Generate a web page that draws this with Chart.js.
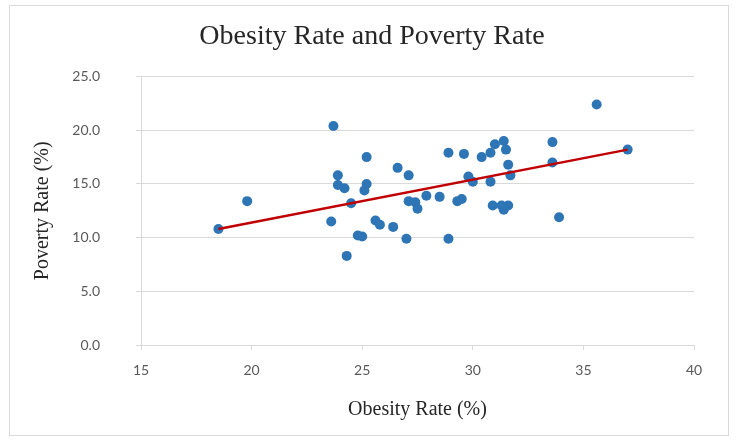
<!DOCTYPE html>
<html>
<head>
<meta charset="utf-8">
<script src="https://cdn.jsdelivr.net/npm/chart.js@4"></script>
<style>
  body { margin: 0; background: #fff; }
  #wrap { position: relative; width: 744px; height: 442px; }
  #frame { position: absolute; left: 9px; top: 5px; width: 718px; height: 429px; border: 1.5px solid #d9d9d9; }
  #myChart { position: absolute; left: 0; top: 0; }
</style>
</head>
<body>
<div id="wrap">
  <div id="frame"></div>
  <canvas id="myChart" width="744" height="442"></canvas>
</div>
<script>
// obesity rate (%) vs poverty rate (%)
var obesity = [18.5, 19.8, 23.7, 25.2, 26.6, 27.1, 23.9, 23.9, 24.2, 25.2,
               25.1, 24.5, 27.1, 27.4, 27.5, 27.9, 23.6, 25.6, 25.8, 26.4,
               24.8, 25.0, 27.0, 24.3, 28.5, 28.9, 29.6, 28.9, 29.3, 29.5,
               29.8, 30.0, 30.4, 30.8, 31.0, 31.4, 31.5, 31.6, 31.7, 30.8,
               30.9, 31.4, 31.6, 31.3, 33.6, 33.6, 33.9, 35.6, 37.0];
var poverty = [10.8, 13.4, 20.4, 17.5, 16.5, 15.8, 15.8, 14.9, 14.6, 15.0,
               14.4, 13.2, 13.4, 13.3, 12.7, 13.9, 11.5, 11.6, 11.2, 11.0,
               10.2, 10.1, 9.9, 8.3, 13.8, 17.9, 17.8, 9.9, 13.4, 13.6,
               15.7, 15.2, 17.5, 17.9, 18.7, 19.0, 18.2, 16.8, 15.8, 15.2,
               13.0, 12.6, 13.0, 13.0, 18.9, 17.0, 11.9, 22.4, 18.2];

// trendline end points as drawn
var trendX = [18.5, 37.0];
var trendY = [10.8, 18.2];

var xTicks = [15, 20, 25, 30, 35, 40];
var yTicks = [0, 5, 10, 15, 20, 25];

var points = obesity.map(function (v, i) { return { x: v, y: poverty[i] }; });
var trend = trendX.map(function (v, i) { return { x: v, y: trendY[i] }; });

var gray = '#d9d9d9';
var tickFont = { family: 'Lato', size: 14 };
var titleFont = { family: 'Liberation Serif', size: 20, lineHeight: 1.2 };

var ctx = document.getElementById('myChart').getContext('2d');
var myChart = new Chart(ctx, {
    type: 'scatter',
    data: {
        datasets: [{
            type: 'line',
            label: 'Trend',
            data: trend,
            borderColor: '#c00000',
            borderWidth: 2.5,
            pointRadius: 0,
            fill: false
        }, {
            label: 'States',
            data: points,
            backgroundColor: '#2e75b6',
            borderColor: '#2e75b6',
            borderWidth: 0,
            pointRadius: 5
        }]
    },
    options: {
        responsive: false,
        animation: false,
        layout: { padding: 0 },
        plugins: {
            legend: { display: false },
            tooltip: { enabled: false },
            title: {
                display: true,
                text: 'Obesity Rate and Poverty Rate',
                color: '#262626',
                font: { family: 'Liberation Serif', size: 28, weight: 'normal', lineHeight: 1.2 },
                padding: { top: 20, bottom: 23 }
            }
        },
        scales: {
            x: {
                type: 'linear',
                min: 15,
                max: 40,
                afterBuildTicks: function (s) { s.ticks = xTicks.map(function (v) { return { value: v }; }); },
                afterFit: function (s) { s.height = 97; },
                ticks: { color: '#595959', font: tickFont, padding: 12 },
                grid: { drawOnChartArea: false, drawTicks: true, tickLength: 5, color: gray },
                border: { color: gray },
                title: {
                    display: true,
                    text: 'Obesity Rate (%)',
                    color: '#262626',
                    font: titleFont,
                    padding: { top: 0, bottom: 20 }
                }
            },
            y: {
                type: 'linear',
                min: 0,
                max: 25,
                afterBuildTicks: function (s) { s.ticks = yTicks.map(function (v) { return { value: v }; }); },
                afterFit: function (s) { s.width = 141; },
                ticks: {
                    color: '#595959',
                    font: tickFont,
                    padding: 36,
                    callback: function (v) { return Number(v).toFixed(1); }
                },
                grid: { color: gray, tickLength: 5 },
                border: { color: gray },
                title: {
                    display: true,
                    text: 'Poverty Rate (%)',
                    color: '#262626',
                    font: titleFont,
                    padding: { top: 31, bottom: 0 }
                }
            },
            // empty right-hand strip so the plot ends where the reference does
            yRight: {
                type: 'linear',
                position: 'right',
                min: 0,
                max: 25,
                afterFit: function (s) { s.width = 50; },
                ticks: { display: false },
                grid: { display: false },
                border: { display: false }
            }
        }
    }
});
</script>
</body>
</html>
